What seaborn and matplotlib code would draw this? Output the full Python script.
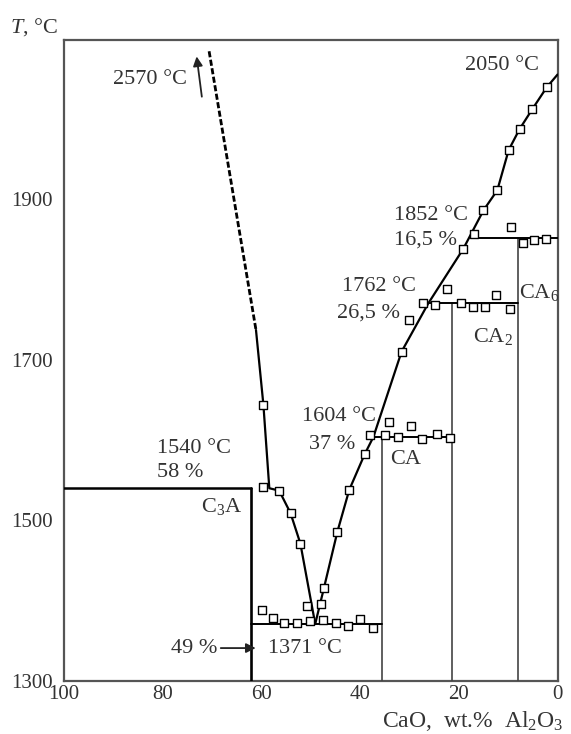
import matplotlib
matplotlib.use('Agg')
import matplotlib.pyplot as plt
import seaborn as sns
import pandas as pd

sns.set_style('white')
plt.rcParams['font.family'] = ['Liberation Serif', 'DejaVu Serif']
plt.rcParams['mathtext.fontset'] = 'custom'
plt.rcParams['mathtext.rm'] = 'Liberation Serif'
plt.rcParams['mathtext.it'] = 'Liberation Serif:italic'

TXT = '#333333'

# liquidus, C3A side (dashed part goes off to 2570 °C)
liq_dash_x = [70.6, 61.1]
liq_dash_T = [2084, 1737]
liq_left_x = [61.1, 59.6, 58.4, 56.4, 54.1, 52.1, 49.1]
liq_left_T = [1737, 1644, 1540, 1537, 1509, 1471, 1371]

# liquidus, alumina side
liq_right_x = [49.1, 47.4, 44.6, 42.2, 39.1, 37.3, 31.6, 26.2, 19.1, 15.0, 12.2, 9.9, 7.7, 5.1, 2.2, 0.0]
liq_right_T = [1371, 1414, 1486, 1538, 1582, 1604, 1710, 1770, 1838, 1886, 1911, 1961, 1987, 2012, 2039, 2055]

# compound compositions (wt.% CaO) and their upper temperatures
comp_x = [62.1, 35.5, 21.3, 8.1]
comp_T = [1540, 1604, 1771, 1852]

# horizontal invariant lines: start x, end x, T
h_x0 = [100.0, 62.1, 37.9, 27.2, 17.0]
h_x1 = [62.1, 35.5, 21.3, 8.1, 0.0]
h_T = [1540, 1371, 1604, 1771, 1852]

# measured points
sq_liq_x = [59.6, 59.6, 56.4, 54.1, 52.1, 50.7, 47.9, 47.3, 44.6, 42.2, 39.1, 37.9,
            31.6, 30.0, 19.1, 17.0, 15.0, 12.2, 9.9, 7.7, 5.1, 2.2]
sq_liq_T = [1644, 1541, 1537, 1509, 1471, 1393, 1396, 1416, 1486, 1538, 1582, 1606,
            1710, 1750, 1838, 1856, 1886, 1911, 1961, 1987, 2012, 2039]
sq_eut_x = [59.8, 57.6, 55.4, 52.7, 50.1, 47.5, 44.8, 42.4, 40.0, 37.3]
sq_eut_T = [1388, 1378, 1372, 1372, 1375, 1376, 1372, 1368, 1377, 1366]
sq_ca_x = [34.9, 34.1, 32.3, 29.6, 27.4, 24.5, 21.7]
sq_ca_T = [1606, 1623, 1604, 1617, 1601, 1607, 1603]
sq_ca2_x = [27.2, 24.9, 22.3, 19.5, 17.2, 14.6, 12.4, 9.7]
sq_ca2_T = [1771, 1768, 1788, 1771, 1765, 1765, 1781, 1763]
sq_ca6_x = [9.5, 6.9, 4.7, 2.4]
sq_ca6_T = [1865, 1845, 1849, 1850]

squares = pd.DataFrame({
    'x': sq_liq_x + sq_eut_x + sq_ca_x + sq_ca2_x + sq_ca6_x,
    'T': sq_liq_T + sq_eut_T + sq_ca_T + sq_ca2_T + sq_ca6_T,
})

fig = plt.figure(figsize=(5.71, 7.34), dpi=100)
ax = fig.add_axes([0.1121, 0.0722, 0.8643, 0.8733])

# verticals of the compounds
for i, (cx, ct) in enumerate(zip(comp_x, comp_T)):
    if i == 0:
        ax.plot([cx, cx], [1290, ct], color='black', lw=1.9, zorder=3)
    else:
        ax.plot([cx, cx], [1290, ct], color='#444444', lw=1.2, zorder=3)

for x0, x1, t in zip(h_x0, h_x1, h_T):
    lw = 1.8 if t == 1540 else 1.4
    ax.plot([x0, x1], [t, t], color='black', lw=lw, zorder=3)

sns.lineplot(x=liq_dash_x, y=liq_dash_T, ax=ax, color='black', lw=2.0,
             linestyle=(0, (2.2, 0.9)), sort=False, estimator=None, zorder=4)
sns.lineplot(x=liq_left_x, y=liq_left_T, ax=ax, color='black', lw=1.6,
             sort=False, estimator=None, zorder=4)
sns.lineplot(x=liq_right_x, y=liq_right_T, ax=ax, color='black', lw=1.6,
             sort=False, estimator=None, zorder=4)
sns.scatterplot(data=squares, x='x', y='T', ax=ax, marker='s', s=30,
                facecolor='white', edgecolor='black', linewidth=1.0, zorder=5)

ax.set_xlim(100, 0)
ax.set_ylim(1300, 2098)
ax.set_xticks([100, 80, 60, 40, 20, 0])
ax.set_yticks([1300, 1500, 1700, 1900])
ax.tick_params(direction='in', length=6, width=1.2, color='#444444',
               labelsize=15, labelcolor=TXT)
ax.tick_params(axis='y', pad=8)
ax.tick_params(axis='x', pad=3)
ax.set_xlabel('')
ax.set_ylabel('')
for sp in ax.spines.values():
    sp.set_color('#555555')
    sp.set_linewidth(1.6)

fs = 16
# arrows
ax.annotate('', xy=(73.2, 2081), xytext=(72.0, 2024),
            arrowprops=dict(arrowstyle='-|>', color='#222222', lw=1.3, mutation_scale=14))
ax.annotate('', xy=(60.6, 1341), xytext=(68.8, 1341),
            arrowprops=dict(arrowstyle='-|>', color='#222222', lw=1.3, mutation_scale=14))

ax.text(75.05, 2049, '2570 °C', ha='right', va='center', fontsize=fs, color=TXT)
ax.text(3.85, 2066, '2050 °C', ha='right', va='center', fontsize=fs, color=TXT)
ax.text(33.2, 1879, '1852 °C', ha='left', va='center', fontsize=fs, color=TXT)
ax.text(33.2, 1849, '16,5 %', ha='left', va='center', fontsize=fs, color=TXT)
ax.text(43.6, 1791, '1762 °C', ha='left', va='center', fontsize=fs, color=TXT)
ax.text(44.6, 1758, '26,5 %', ha='left', va='center', fontsize=fs, color=TXT)
ax.text(51.7, 1629, '1604 °C', ha='left', va='center', fontsize=fs, color=TXT)
ax.text(50.3, 1594, '37 %', ha='left', va='center', fontsize=fs, color=TXT)
ax.text(33.9, 1576, 'CA', ha='left', va='center', fontsize=fs, color=TXT)
ax.text(17.2, 1729, r'CA$_\mathrm{2}$', ha='left', va='center', fontsize=fs, color=TXT)
ax.text(7.9, 1784, r'CA$_\mathrm{6}$', ha='left', va='center', fontsize=fs, color=TXT)
ax.text(81.1, 1589, '1540 °C', ha='left', va='center', fontsize=fs, color=TXT)
ax.text(81.1, 1560, '58 %', ha='left', va='center', fontsize=fs, color=TXT)
ax.text(72.2, 1517, r'C$_\mathrm{3}$A', ha='left', va='center', fontsize=fs, color=TXT)
ax.text(78.3, 1341, '49 %', ha='left', va='center', fontsize=fs, color=TXT)
ax.text(58.6, 1341, '1371 °C', ha='left', va='center', fontsize=fs, color=TXT)

fig.text(10 / 571, 1 - 27 / 734, r'$T$, °C', ha='left', va='center', fontsize=fs, color=TXT)
fig.text(382 / 571, 1 - 721 / 734, r'CaO,  wt.%  Al$_\mathrm{2}$O$_\mathrm{3}$',
         ha='left', va='center', fontsize=17, color=TXT)

fig.savefig('out.png', dpi=100)
